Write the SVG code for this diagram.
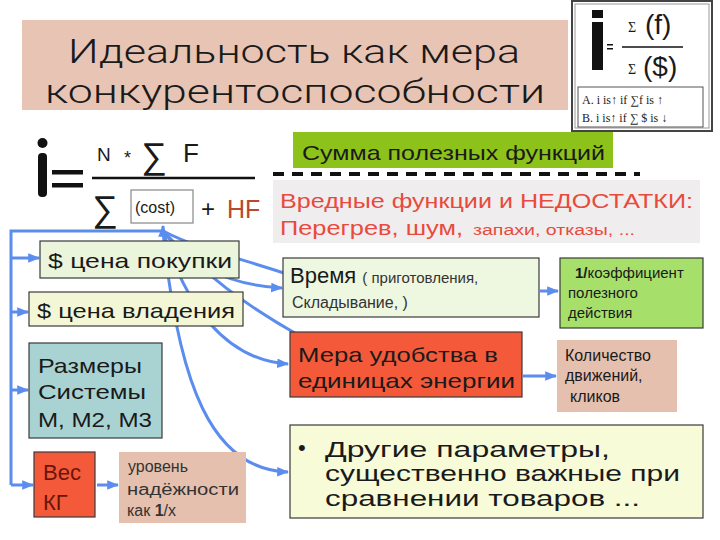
<svg xmlns="http://www.w3.org/2000/svg" width="720" height="540" viewBox="0 0 720 540">
<defs>
<marker id="ah" viewBox="0 0 10 10" refX="9" refY="5" markerWidth="4" markerHeight="4" orient="auto" markerUnits="strokeWidth"><path d="M0,1 L10,5 L0,9 z" fill="#5b8def"/></marker>
<style>
text{font-family:"Liberation Sans","DejaVu Sans",Arial,sans-serif;fill:#1a1a1a}
.bx{stroke:#3a3a3a;stroke-width:1.2}
.c{fill:none;stroke:#5b8def;stroke-width:3}
.ca{fill:none;stroke:#5b8def;stroke-width:3;marker-end:url(#ah)}
.serif{font-family:"Liberation Serif","DejaVu Serif",serif}
.narrow{font-family:Roboto,"Liberation Sans",sans-serif;font-weight:300}
</style>
</defs>
<rect width="720" height="540" fill="#ffffff"/>

<g id="title">
<rect x="22" y="20" width="546" height="90" fill="#e8c4b4"/>
<text class="narrow" x="68" y="63" font-size="34" textLength="452" lengthAdjust="spacingAndGlyphs">Идеальность как мера</text>
<text class="narrow" x="45" y="103" font-size="34" textLength="500" lengthAdjust="spacingAndGlyphs">конкурентоспособности</text>
</g>

<g id="formula-box">
<rect x="572" y="1" width="140" height="130" fill="#fff" stroke="#444" stroke-width="2"/>
<rect x="575" y="4" width="134" height="124" fill="none" stroke="#999" stroke-width="1"/>
<rect x="592" y="10" width="11" height="8" fill="#111"/>
<rect x="592" y="22" width="11" height="48" fill="#111"/>
<rect x="607" y="44" width="6" height="1.5" fill="#111"/>
<rect x="607" y="48" width="6" height="1.5" fill="#111"/>
<text x="628" y="32" font-size="14" class="serif">Σ</text>
<text x="645" y="34" font-size="28">(f)</text>
<line x1="622" y1="47" x2="683" y2="47" stroke="#111" stroke-width="1.5"/>
<text x="628" y="74" font-size="14" class="serif">Σ</text>
<text x="643" y="76" font-size="28">($)</text>
<rect x="578" y="87" width="125" height="40" fill="#fff" stroke="#555" stroke-width="1"/>
<text x="582" y="104" font-size="12" class="serif">A. i is↑ if ∑f is ↑</text>
<text x="582" y="122" font-size="12" class="serif">B. i is↑ if ∑ $ is ↓</text>
</g>

<g id="formula">
<circle cx="42.5" cy="143" r="5" fill="#111"/>
<rect x="38" y="153" width="9" height="44" rx="4" fill="#111"/>
<rect x="52" y="170" width="31" height="4.5" fill="#111"/>
<rect x="52" y="183" width="31" height="4.5" fill="#111"/>
<text x="97" y="161" font-size="19">N</text>
<text x="124" y="164" font-size="18">*</text>
<text x="141" y="168" font-size="36">∑</text>
<text x="183" y="162" font-size="26">F</text>
<line x1="92" y1="178" x2="255" y2="178" stroke="#111" stroke-width="2.5"/>
<text x="92" y="221" font-size="36">∑</text>
<rect x="131" y="190" width="62" height="33" fill="#fff" stroke="#888" stroke-width="1.2"/>
<text x="135" y="213" font-size="16">(cost)</text>
<text x="201" y="217" font-size="24">+</text>
<text x="227" y="218" font-size="25" style="fill:#b84a2a">HF</text>
</g>

<g id="sum">
<rect x="293" y="132" width="320" height="36" fill="#8cc21a"/>
<text x="302" y="160" font-size="21" textLength="303" lengthAdjust="spacingAndGlyphs">Сумма полезных функций</text>
</g>
<line x1="273" y1="174" x2="640" y2="174" stroke="#111" stroke-width="4" stroke-dasharray="11,8"/>

<g id="harmful">
<rect x="273" y="180" width="427" height="63" fill="#efeded"/>
<text x="280" y="208" font-size="20" style="fill:#e84a3c" textLength="413" lengthAdjust="spacingAndGlyphs">Вредные функции и НЕДОСТАТКИ:</text>
<text x="280" y="235" font-size="20" style="fill:#e84a3c" textLength="183" lengthAdjust="spacingAndGlyphs">Перегрев, шум,</text>
<text x="473" y="235" font-size="14" style="fill:#e84a3c" textLength="162" lengthAdjust="spacingAndGlyphs">запахи, отказы, ...</text>
</g>

<g id="connectors">
<path class="c" d="M163,231 L11,231 L11,485"/>
<path class="ca" d="M163,231 L163,226"/>
<path class="ca" d="M11,258 L39,258"/>
<path class="ca" d="M11,312 L28,312"/>
<path class="ca" d="M11,390 L28,390"/>
<path class="ca" d="M11,485 L33,485"/>
<path class="ca" d="M97,485 L118,485"/>
<path class="c" d="M163,231 C200,250 240,258 290,275"/>
<path class="ca" d="M163,231 C185,262 225,285 282,288"/>
<path class="c" d="M163,231 C205,275 245,305 300,336"/>
<path class="ca" d="M163,231 C185,305 225,360 288,364"/>
<path class="ca" d="M163,231 C178,385 212,470 288,472"/>
<path class="ca" d="M540,291 L558,291"/>
<path class="ca" d="M523,376 L556,376"/>
</g>

<g id="price-buy">
<rect class="bx" x="40" y="241" width="199" height="37" fill="#ebf5dc"/>
<text x="48" y="268" font-size="21" textLength="184" lengthAdjust="spacingAndGlyphs">$ цена покупки</text>
</g>
<g id="price-own">
<rect class="bx" x="29" y="292" width="214" height="34" fill="#f4f7d6"/>
<text x="37" y="318" font-size="21" textLength="198" lengthAdjust="spacingAndGlyphs">$ цена владения</text>
</g>
<g id="sizes">
<rect class="bx" x="29" y="343" width="133" height="95" fill="#a9d3d3"/>
<text x="38" y="373" font-size="21" textLength="104" lengthAdjust="spacingAndGlyphs">Размеры</text>
<text x="38" y="399" font-size="21" textLength="108" lengthAdjust="spacingAndGlyphs">Системы</text>
<text x="38" y="427" font-size="21" textLength="114" lengthAdjust="spacingAndGlyphs">М, М2, М3</text>
</g>
<g id="weight">
<rect class="bx" x="34" y="452" width="61" height="65" fill="#f45a3a"/>
<text x="43" y="480" font-size="22" style="fill:#6a150a">Вес</text>
<text x="43" y="510" font-size="22" style="fill:#6a150a">КГ</text>
</g>
<g id="reliability">
<rect x="119" y="452" width="127" height="71" fill="#e6c0ae"/>
<text x="128" y="472" font-size="16" style="fill:#333">уровень</text>
<text x="127" y="495" font-size="16" style="fill:#333" textLength="112" lengthAdjust="spacingAndGlyphs">надёжности</text>
<text x="127" y="516" font-size="16" style="fill:#333">как <tspan font-weight="bold">1</tspan>/х</text>
</g>

<g id="time">
<rect class="bx" x="283" y="258" width="256" height="59" fill="#eef7e0"/>
<text x="290" y="283" font-size="22">Время <tspan font-size="15" style="fill:#333">( приготовления,</tspan></text>
<text x="292" y="308" font-size="16" style="fill:#333">Складывание, )</text>
</g>
<g id="efficiency">
<rect class="bx" x="560" y="258" width="143" height="70" fill="#a6e06a"/>
<text x="575" y="278" font-size="15"><tspan font-weight="bold">1/</tspan>коэффициент</text>
<text x="568" y="298" font-size="15">полезного</text>
<text x="568" y="318" font-size="15">действия</text>
</g>
<g id="comfort">
<rect class="bx" x="290" y="332" width="232" height="65" fill="#f45a3a"/>
<text x="298" y="362" font-size="21" textLength="200" lengthAdjust="spacingAndGlyphs">Мера удобства в</text>
<text x="298" y="388" font-size="21" textLength="217" lengthAdjust="spacingAndGlyphs">единицах энергии</text>
</g>
<g id="clicks">
<rect x="557" y="340" width="120" height="72" fill="#e6c0ae"/>
<text x="565" y="361" font-size="16">Количество</text>
<text x="565" y="381" font-size="16">движений,</text>
<text x="570" y="402" font-size="16">кликов</text>
</g>
<g id="other">
<rect class="bx" x="290" y="425" width="413" height="93" fill="#f7fbd8"/>
<text x="298" y="455" font-size="22">•</text>
<text x="325" y="457" font-size="22" textLength="285" lengthAdjust="spacingAndGlyphs">Другие параметры,</text>
<text x="325" y="481" font-size="22" textLength="355" lengthAdjust="spacingAndGlyphs">существенно важные при</text>
<text x="325" y="506" font-size="22" textLength="315" lengthAdjust="spacingAndGlyphs">сравнении товаров ...</text>
</g>
</svg>
